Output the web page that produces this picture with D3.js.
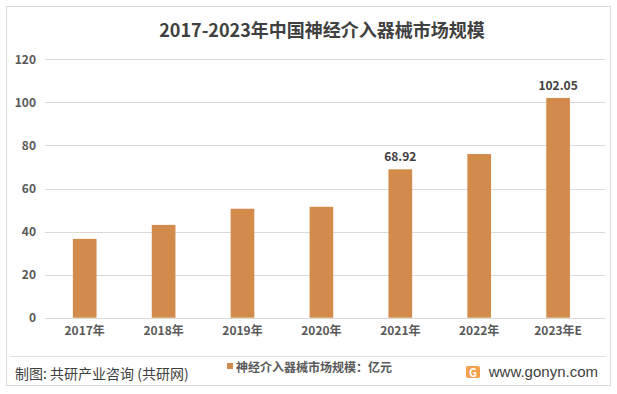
<!DOCTYPE html>
<html>
<head>
<meta charset="utf-8">
<script src="https://cdn.jsdelivr.net/npm/d3@7/dist/d3.min.js"></script>
<style>
  body { margin: 0; background: #fff; }
  text { font-family: "Microsoft YaHei", "Noto Sans CJK SC", sans-serif; }
</style>
</head>
<body>
<div id="chart"></div>
<script>
var years = ["2017年", "2018年", "2019年", "2020年", "2021年", "2022年", "2023年E"];
var values = [36.6, 43.1, 50.6, 51.5, 68.92, 76.0, 102.05];
var labelled = ["2021年", "2023年E"];
var yTicks = [0, 20, 40, 60, 80, 100, 120];

var width = 617, height = 394;
var svg = d3.select("#chart").append("svg")
    .attr("width", width)
    .attr("height", height);

// frame
svg.append("rect")
    .attr("x", 6.5).attr("y", 6.5)
    .attr("width", 604).attr("height", 379)
    .attr("fill", "#fff")
    .attr("stroke", "#d9d9d9");

svg.append("text")
    .attr("x", 322).attr("y", 37)
    .attr("text-anchor", "middle")
    .style("font-size", "18px")
    .style("font-weight", "bold")
    .attr("fill", "#404040")
    .text("2017-2023年中国神经介入器械市场规模");

var x = d3.scaleBand().domain(years).range([45.25, 597.55]).paddingInner(0.7).paddingOuter(0.35);
var y = d3.scaleLinear().domain([0, 120]).range([317.7, 59.3]);

// grid lines
svg.append("g").selectAll("line")
    .data(yTicks)
    .enter().append("line")
    .attr("x1", 45).attr("x2", 605)
    .attr("y1", function(d){ return Math.round(y(d)) + 0.5; })
    .attr("y2", function(d){ return Math.round(y(d)) + 0.5; })
    .attr("stroke", "#d9d9d9");

var yAxis = svg.append("g")
    .attr("transform", "translate(36,0)")
    .call(d3.axisLeft(y).tickValues(yTicks).tickSize(0).tickPadding(0));
yAxis.select(".domain").remove();
yAxis.selectAll("text")
    .style("font-size", "12px")
    .style("font-weight", "bold")
    .style("font-family", "'Microsoft YaHei', 'Noto Sans CJK SC', sans-serif")
    .attr("fill", "#595959");

var xAxis = svg.append("g")
    .attr("transform", "translate(0,318)")
    .call(d3.axisBottom(x).tickSize(0).tickPadding(8));
xAxis.select(".domain").remove();
xAxis.selectAll("text")
    .style("font-size", "12px")
    .style("font-weight", "bold")
    .style("font-family", "'Microsoft YaHei', 'Noto Sans CJK SC', sans-serif")
    .attr("fill", "#595959");

svg.append("g").selectAll("rect")
    .data(years)
    .enter().append("rect")
    .attr("x", function(d){ return x(d); })
    .attr("y", function(d, i){ return y(values[i]); })
    .attr("width", x.bandwidth())
    .attr("height", function(d, i){ return y(0) - y(values[i]); })
    .attr("fill", "#d38b4c");

svg.append("g").selectAll("text")
    .data(years)
    .enter().filter(function(d){ return labelled.indexOf(d) >= 0; })
    .append("text")
    .attr("x", function(d){ return x(d) + x.bandwidth() / 2; })
    .attr("y", function(d){ return y(values[years.indexOf(d)]) - 8; })
    .attr("text-anchor", "middle")
    .style("font-size", "12px")
    .style("font-weight", "bold")
    .attr("fill", "#404040")
    .text(function(d){ return values[years.indexOf(d)].toFixed(2); });

// footer
svg.append("line")
    .attr("x1", 10).attr("x2", 606)
    .attr("y1", 356.5).attr("y2", 356.5)
    .attr("stroke", "#e0e0e0");

svg.append("text")
    .attr("x", 15).attr("y", 379)
    .style("font-size", "14px")
    .attr("fill", "#404040")
    .text("制图: 共研产业咨询 (共研网)");

svg.append("rect")
    .attr("x", 227).attr("y", 363)
    .attr("width", 6).attr("height", 6)
    .attr("fill", "#d38b4c");
svg.append("text")
    .attr("x", 236).attr("y", 372)
    .style("font-size", "12px")
    .style("font-weight", "bold")
    .attr("fill", "#595959")
    .text("神经介入器械市场规模：亿元");

// logo
var logo = svg.append("g").attr("transform", "translate(466,366)");
logo.append("rect").attr("width", 14).attr("height", 12).attr("rx", 2).attr("fill", "#f5a04a");
logo.append("text").attr("x", 7).attr("y", 10.5).attr("text-anchor", "middle")
    .style("font-size", "11px").style("font-weight", "bold").attr("fill", "#fff").text("G");

svg.append("text")
    .attr("x", 598).attr("y", 377)
    .attr("text-anchor", "end")
    .style("font-size", "15px")
    .style("font-family", "Arial, 'Liberation Sans', sans-serif")
    .attr("fill", "#404040")
    .text("www.gonyn.com");
</script>
</body>
</html>
